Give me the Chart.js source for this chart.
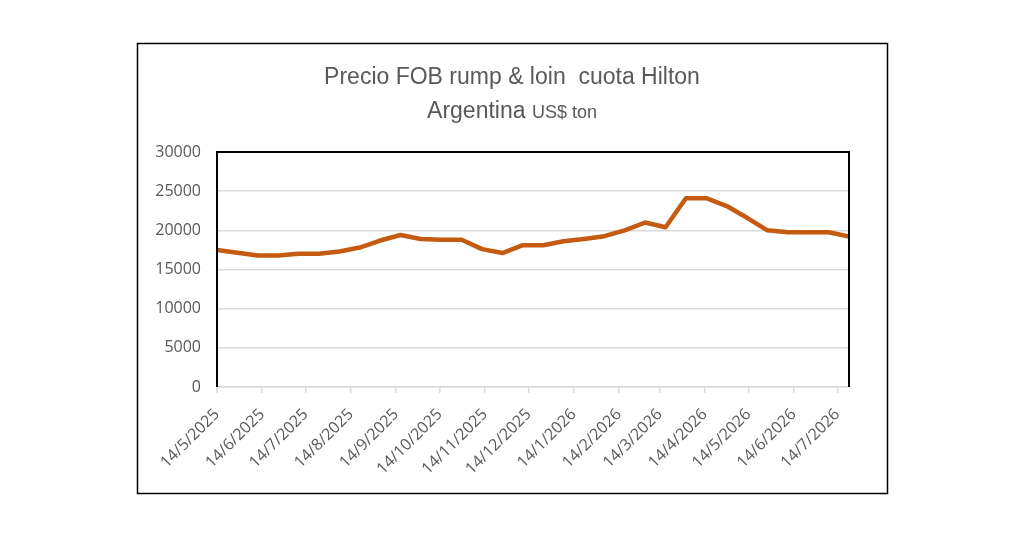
<!DOCTYPE html>
<html>
<head>
<meta charset="utf-8">
<script src="https://cdn.jsdelivr.net/npm/chart.js@4/dist/chart.umd.min.js"></script>
<style>
  html, body { margin: 0; padding: 0; background: #fff; }
  #wrap { width: 1024px; height: 535px; position: relative; }
</style>
</head>
<body>
<div id="wrap"><canvas id="chart" width="1024" height="535"></canvas></div>
<script>
// biweekly observations
var dates = [
    '14/5/2025', '28/5/2025', '11/6/2025', '25/6/2025', '9/7/2025', '23/7/2025',
    '6/8/2025', '20/8/2025', '3/9/2025', '17/9/2025', '1/10/2025', '15/10/2025',
    '29/10/2025', '12/11/2025', '26/11/2025', '10/12/2025', '24/12/2025', '7/1/2026',
    '21/1/2026', '4/2/2026', '18/2/2026', '4/3/2026', '18/3/2026', '1/4/2026',
    '15/4/2026', '29/4/2026', '13/5/2026', '27/5/2026', '10/6/2026', '24/6/2026',
    '8/7/2026', '22/7/2026'
];
var prices = [
    17500, 17150, 16800, 16800, 17000, 17000,
    17300, 17800, 18700, 19400, 18900, 18800,
    18800, 17600, 17100, 18100, 18100, 18600,
    18900, 19250, 20000, 21000, 20400, 24100,
    24100, 23100, 21600, 20000, 19750, 19750,
    19750, 19200
];
var tickLabels = [
    '14/5/2025', '14/6/2025', '14/7/2025', '14/8/2025', '14/9/2025', '14/10/2025',
    '14/11/2025', '14/12/2025', '14/1/2026', '14/2/2026', '14/3/2026', '14/4/2026',
    '14/5/2026', '14/6/2026', '14/7/2026'
];
var yTicks = [0, 5000, 10000, 15000, 20000, 25000, 30000];
var titleLine1 = 'Precio FOB rump & loin  cuota Hilton';
var titleLine2a = 'Argentina';
var titleLine2b = 'US$ ton';

function toDay(s) {
    var p = s.split('/');
    return Date.UTC(+p[2], +p[1] - 1, +p[0]) / 86400000;
}

var points = [];
for (var i = 0; i < dates.length; i++) {
    points.push({ x: toDay(dates[i]), y: prices[i] });
}

var grey = '#595959';
var titleFont = "'Liberation Sans Narrow', 'Arial Narrow', 'Liberation Sans', sans-serif";
var axisFont = "'Open Sans', sans-serif";

// outer frame, plot border and the two-size title
var framePlugin = {
    id: 'frame',
    beforeDraw: function (chart) {
        var ctx = chart.ctx;
        ctx.save();
        ctx.fillStyle = '#fff';
        ctx.fillRect(0, 0, chart.width, chart.height);
        ctx.strokeStyle = '#000';
        ctx.lineWidth = 1.5;
        ctx.strokeRect(137.5, 43.5, 750, 450);
        ctx.restore();
    },
    afterDraw: function (chart) {
        var ctx = chart.ctx;
        var a = chart.chartArea;
        ctx.save();
        ctx.strokeStyle = '#000';
        ctx.lineWidth = 2;
        ctx.beginPath();
        ctx.moveTo(a.left, a.bottom);
        ctx.lineTo(a.left, a.top);
        ctx.lineTo(a.right, a.top);
        ctx.lineTo(a.right, a.bottom);
        ctx.stroke();

        ctx.fillStyle = grey;
        ctx.textBaseline = 'alphabetic';
        ctx.textAlign = 'center';
        ctx.font = '23px ' + titleFont;
        ctx.fillText(titleLine1, 512, 84);

        ctx.textAlign = 'left';
        ctx.font = '23px ' + titleFont;
        var w1 = ctx.measureText(titleLine2a + ' ').width;
        ctx.font = '18px ' + titleFont;
        var w2 = ctx.measureText(titleLine2b).width;
        var x0 = 512 - (w1 + w2) / 2;
        ctx.font = '23px ' + titleFont;
        ctx.fillText(titleLine2a, x0, 118);
        ctx.font = '18px ' + titleFont;
        ctx.fillText(titleLine2b, x0 + w1, 118);
        ctx.restore();
    }
};

new Chart(document.getElementById('chart'), {
    type: 'line',
    data: {
        datasets: [{
            data: points,
            borderColor: '#C55A11',
            borderWidth: 4.5,
            borderJoinStyle: 'round',
            borderCapStyle: 'round',
            pointRadius: 0,
            tension: 0,
            fill: false
        }]
    },
    options: {
        responsive: false,
        animation: false,
        devicePixelRatio: 1,
        layout: { padding: { left: 137, right: 175, top: 152, bottom: 42 } },
        plugins: {
            legend: { display: false },
            tooltip: { enabled: false },
            title: { display: false }
        },
        scales: {
            x: {
                type: 'linear',
                min: toDay(dates[0]),
                max: toDay(dates[dates.length - 1]),
                afterBuildTicks: function (scale) {
                    scale.ticks = tickLabels.map(function (l) { return { value: toDay(l) }; });
                },
                afterFit: function (scale) { scale.height = 106; },
                ticks: {
                    autoSkip: false,
                    minRotation: 45,
                    maxRotation: 45,
                    color: grey,
                    padding: 12,
                    font: { family: axisFont, size: 16 },
                    callback: function (value, index) { return tickLabels[index]; }
                },
                grid: {
                    drawOnChartArea: false,
                    drawTicks: true,
                    tickLength: 6,
                    color: '#d9d9d9',
                    lineWidth: 1.5
                },
                border: { display: true, color: '#d9d9d9', width: 1.5 }
            },
            y: {
                min: 0,
                max: 30000,
                afterBuildTicks: function (scale) {
                    scale.ticks = yTicks.map(function (v) { return { value: v }; });
                },
                afterFit: function (scale) { scale.width = 80; },
                ticks: {
                    color: grey,
                    padding: 16,
                    font: { family: axisFont, size: 16 },
                    callback: function (value) { return String(value); }
                },
                grid: {
                    color: '#d9d9d9',
                    lineWidth: 1.5,
                    drawTicks: false
                },
                border: { display: false }
            }
        }
    },
    plugins: [framePlugin]
});
</script>
</body>
</html>
